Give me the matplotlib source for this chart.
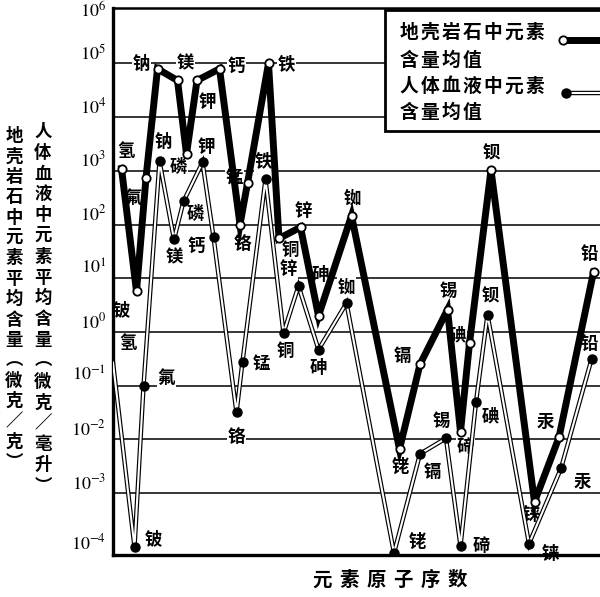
import matplotlib
matplotlib.use("Agg")
import matplotlib.pyplot as plt
from matplotlib.lines import Line2D
from matplotlib.patches import Rectangle
from matplotlib.ticker import NullLocator
import matplotlib.transforms as mtransforms

plt.rcParams["font.family"] = ["Noto Sans CJK SC", "DejaVu Sans"]
plt.rcParams["mathtext.fontset"] = "stix"

# ---------------------------------------------------------------------------
# data
# ---------------------------------------------------------------------------
names = ["氢", "铍", "氟", "钠", "镁", "磷", "钾", "钙", "铬", "锰", "铁", "铜",
         "锌", "砷", "铷", "铑", "镉", "锡", "碲", "碘", "钡", "铼", "汞", "铅"]

# position along the element axis (no tick labels on the original)
crust_pos = [1.7, 4.7, 6.6, 8.9, 12.9, 14.7, 16.8, 21.3, 25.4, 26.9, 31.1, 33.2,
             37.5, 41.1, 47.7, 57.3, 61.4, 66.9, 69.5, 71.3, 75.6, 84.3, 89.2, 96.1]
# crust average content, ug/g
crust_val = [1.1e3, 5.7, 740, 7.9e4, 4.8e4, 2.05e3, 4.8e4, 7.9e4, 100, 590, 1.0e5, 55,
             89, 2.0, 146, 6.6e-3, 0.25, 2.6, 1.4e-2, 0.62, 1.03e3, 6.9e-4, 1.1e-2, 13]

blood_pos = [0.0, 4.3, 6.1, 9.3, 12.2, 14.1, 17.9, 20.1, 24.7, 25.9, 30.5, 34.1,
             37.1, 41.1, 46.7, 56.2, 61.4, 66.6, 69.5, 72.6, 74.9, 83.2, 89.6, 95.7]
# blood average content, ug/ml
blood_val = [0.27, 1.0e-4, 0.098, 1.5e3, 53, 270, 1.44e3, 59, 0.032, 0.28, 690, 0.95,
             7.2, 0.47, 3.45, 7.7e-5, 5.4e-3, 1.05e-2, 1.05e-4, 0.05, 2.1, 1.15e-4, 2.9e-3, 0.31]

decades = list(range(-4, 7))

legend_rows = ["地壳岩石中元素", "含量均值", "人体血液中元素", "含量均值"]
ylabel_crust = "地壳岩石中元素平均含量︵微克／克︶"
ylabel_blood = "人体血液中元素平均含量︵微克／毫升︶"
xlabel = "元素原子序数"

# label offsets from each point, in pixels (dx right, dy down)
crust_off = [(5, -18), (-15, 19), (-13, 20), (-16, -5), (8, -17), (-8, 13), (10, 22),
             (17, -3), (2, 19), (-13, -4), (18, 2), (11, 12), (3, -16), (2, -41),
             (1, -17), (1, 18), (-18, -8), (1, -19), (5, 15), (-12, -8), (0, -17),
             (-3, 13), (-14, -15), (-4, -18)]
blood_off = [(15, -20), (19, -8), (23, -8), (4, -19), (0, 18), (12, 13), (4, -15),
             (-17, 9), (0, 25), (19, 3), (-2, -17), (2, 18), (-10, -17), (0, 18),
             (0, -16), (23, -11), (12, 18), (-5, -17), (21, 0), (14, 15), (3, -18),
             (21, 10), (21, 14), (-2, -15)]

W, H = 600, 597


def fx(px):
    return px / W


def fy(py):
    return 1 - py / H


def spaced_text(fig, x, y, s, step, vertical=False, **kw):
    """Place characters one by one (pixel coords) to mimic the wide spacing."""
    for i, ch in enumerate(s):
        if vertical:
            fig.text(fx(x), fy(y + i * step), ch, ha="center", va="center", **kw)
        else:
            fig.text(fx(x + i * step), fy(y), ch, ha="center", va="center", **kw)


fig = plt.figure(figsize=(W / 100, H / 100), dpi=100)
ax = fig.add_axes([fx(113), fy(555), fx(605) - fx(113), fy(8) - fy(555)])
ax.set_yscale("log")
ax.set_xlim(0, 98.4)
ax.set_ylim(10 ** -4.15, 10 ** 6.03)
ax.xaxis.set_major_locator(NullLocator())
ax.yaxis.set_major_locator(NullLocator())
ax.yaxis.set_minor_locator(NullLocator())
ax.spines["right"].set_visible(False)
ax.spines["left"].set_linewidth(2.4)
ax.spines["bottom"].set_linewidth(2.4)
ax.spines["top"].set_linewidth(1.8)

# grid lines and tick labels
for k in decades:
    if -3 <= k <= 5:
        ax.axhline(10 ** k, color="black", lw=1.1, zorder=1)
    up = 10
    if k == 6:
        up = -2
    elif k == -4:
        up = 4
    tr = mtransforms.offset_copy(ax.get_yaxis_transform(), fig=fig, x=-7, y=up, units="dots")
    ax.text(0, 10 ** k, rf"$10^{{{k}}}$", transform=tr, ha="right", va="center",
            fontsize=13, family="DejaVu Serif", clip_on=False)

# blood: double line (white core with black edges), filled markers
ax.plot(blood_pos, blood_val, color="black", lw=3.2, zorder=3, solid_joinstyle="miter")
ax.plot(blood_pos, blood_val, color="white", lw=1.5, zorder=3.1, solid_joinstyle="miter")
ax.plot(blood_pos[1:], blood_val[1:], ls="none", marker="o", ms=6.5, mfc="black",
        mec="black", zorder=3.2)

# crust: thick black line, open markers
ax.plot(crust_pos, crust_val, color="black", lw=5, zorder=4, solid_joinstyle="miter")
ax.plot(crust_pos, crust_val, ls="none", marker="o", ms=6, mfc="white", mec="black",
        mew=1.3, zorder=4.2)

lab_kw = dict(textcoords="offset pixels", ha="center", va="center", fontsize=12.5,
              fontweight="bold", zorder=2,
              bbox=dict(boxstyle="square,pad=0.05", fc="white", ec="none"))
for n, x, v, (dx, dy) in zip(names, crust_pos, crust_val, crust_off):
    ax.annotate(n, (x, v), xytext=(dx, -dy), **lab_kw)
for n, x, v, (dx, dy) in zip(names, blood_pos, blood_val, blood_off):
    ax.annotate(n, (x, v), xytext=(dx, -dy), annotation_clip=False, **lab_kw)

# legend box (drawn by hand: labels left, samples right)
fig.add_artist(Rectangle((fx(385), fy(131)), fx(620) - fx(385), fy(10) - fy(131),
                         transform=fig.transFigure, fc="white", ec="black", lw=2, zorder=5))
for row, y in zip(legend_rows, [32, 60, 86, 112]):
    spaced_text(fig, 409, y, row, 21, fontsize=13.5, fontweight="bold", zorder=6)
fig.add_artist(Line2D([fx(563), fx(620)], [fy(40), fy(40)], color="black", lw=5,
                      transform=fig.transFigure, zorder=6))
fig.add_artist(Line2D([fx(563)], [fy(40)], ls="none", marker="o", ms=6, mfc="white",
                      mec="black", mew=1.3, transform=fig.transFigure, zorder=6.1))
fig.add_artist(Line2D([fx(566), fx(620)], [fy(93), fy(93)], color="black", lw=3.2,
                      transform=fig.transFigure, zorder=6))
fig.add_artist(Line2D([fx(566), fx(620)], [fy(93), fy(93)], color="white", lw=1.5,
                      transform=fig.transFigure, zorder=6.05))
fig.add_artist(Line2D([fx(566)], [fy(93)], ls="none", marker="o", ms=6.5, mfc="black",
                      mec="black", transform=fig.transFigure, zorder=6.1))

# axis titles
spaced_text(fig, 14, 136, ylabel_crust, 20.4, vertical=True, fontsize=12.5, fontweight="bold")
spaced_text(fig, 43, 132, ylabel_blood, 20.8, vertical=True, fontsize=12.5, fontweight="bold")
spaced_text(fig, 322, 580, xlabel, 27, fontsize=14, fontweight="bold")

fig.savefig("out.png", dpi=100)
